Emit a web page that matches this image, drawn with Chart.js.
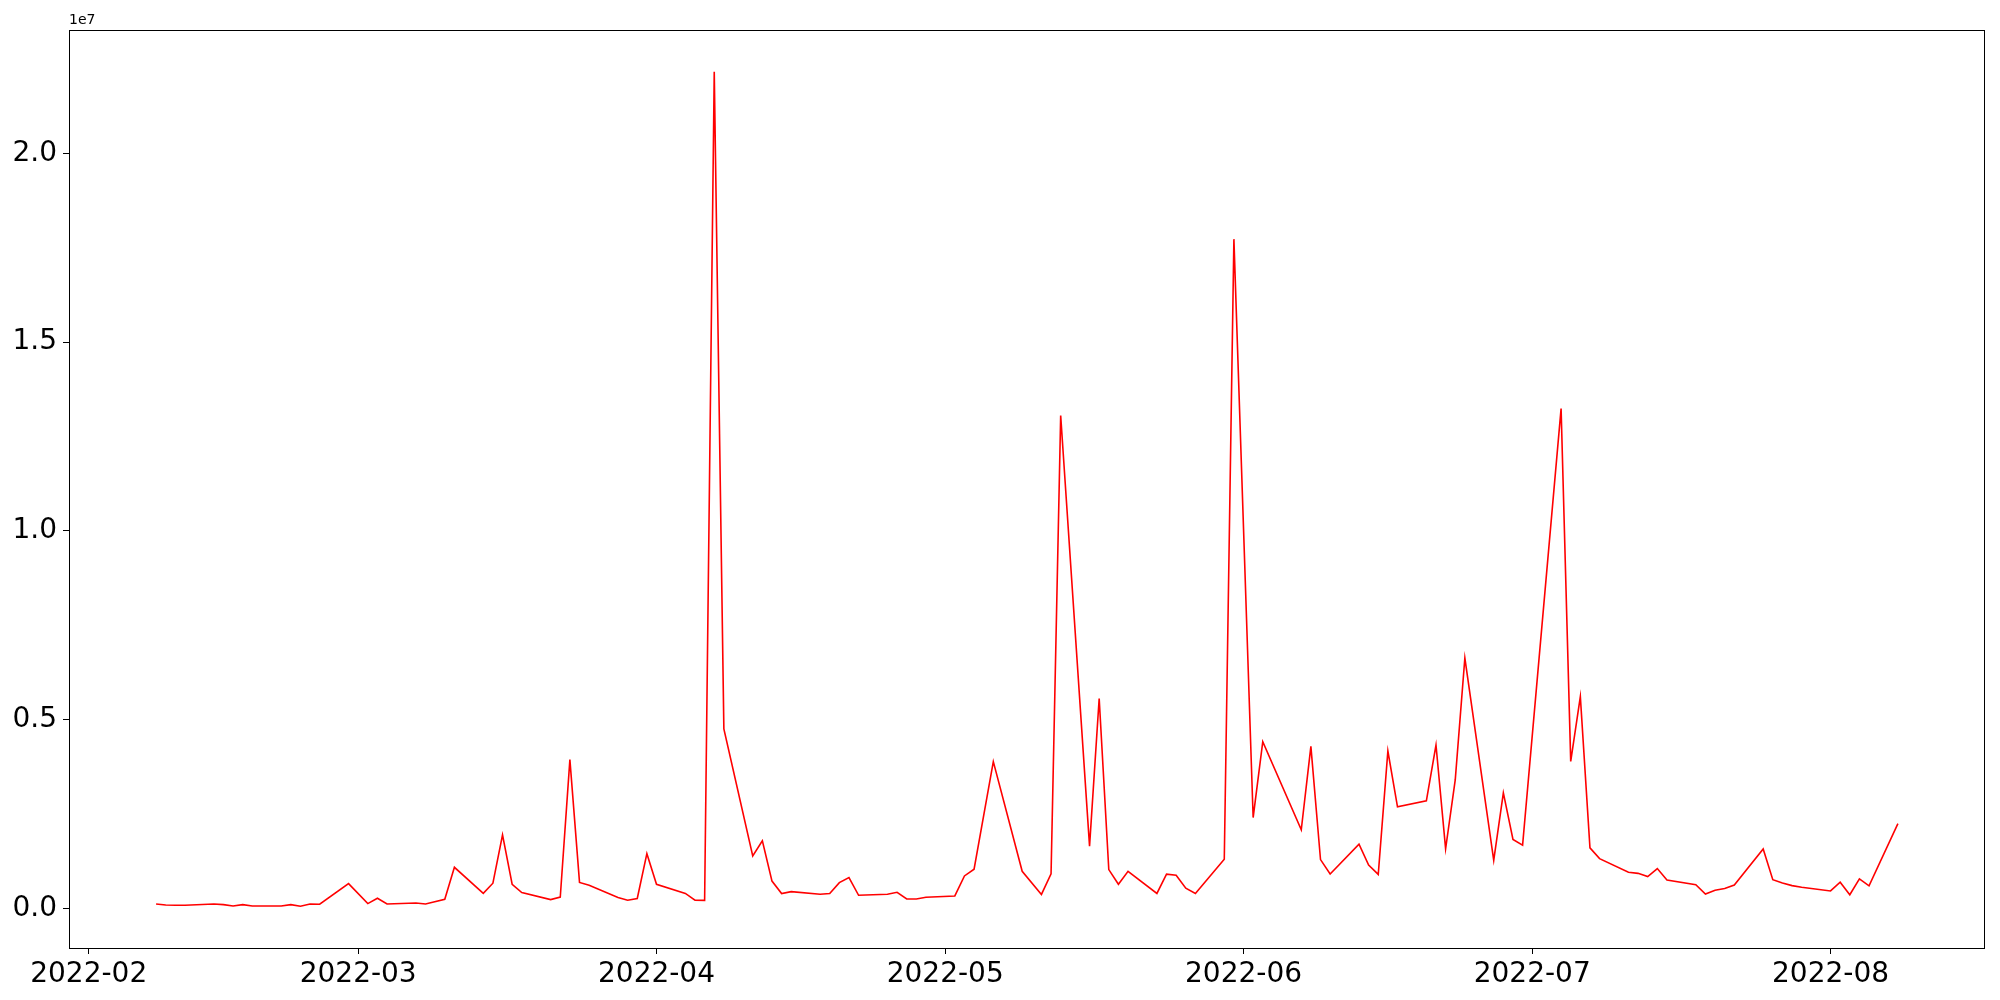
<!DOCTYPE html>
<html>
<head>
<meta charset="utf-8">
<script src="https://cdn.jsdelivr.net/npm/chart.js@4.4.1/dist/chart.umd.min.js"></script>
<style>
  html, body { margin: 0; padding: 0; background: #fff; }
  #chart { display: block; }
</style>
</head>
<body>
<canvas id="chart" width="2000" height="1000"></canvas>
<script>
// daily values (trading days only)
const dates = [
  '2022-02-08', '2022-02-09', '2022-02-10', '2022-02-11', '2022-02-14', '2022-02-15', '2022-02-16',
  '2022-02-17', '2022-02-18', '2022-02-21', '2022-02-22', '2022-02-23', '2022-02-24', '2022-02-25',
  '2022-02-28', '2022-03-02', '2022-03-03', '2022-03-04', '2022-03-07', '2022-03-08', '2022-03-10',
  '2022-03-11', '2022-03-14', '2022-03-15', '2022-03-16', '2022-03-17', '2022-03-18', '2022-03-21',
  '2022-03-22', '2022-03-23', '2022-03-24', '2022-03-25', '2022-03-28', '2022-03-29', '2022-03-30',
  '2022-03-31', '2022-04-01', '2022-04-04', '2022-04-05', '2022-04-06', '2022-04-07', '2022-04-08',
  '2022-04-11', '2022-04-12', '2022-04-13', '2022-04-14', '2022-04-15', '2022-04-18', '2022-04-19',
  '2022-04-20', '2022-04-21', '2022-04-22', '2022-04-25', '2022-04-26', '2022-04-27', '2022-04-28',
  '2022-04-29', '2022-05-02', '2022-05-03', '2022-05-04', '2022-05-06', '2022-05-09', '2022-05-11',
  '2022-05-12', '2022-05-13', '2022-05-16', '2022-05-17', '2022-05-18', '2022-05-19', '2022-05-20',
  '2022-05-23', '2022-05-24', '2022-05-25', '2022-05-26', '2022-05-27', '2022-05-30', '2022-05-31',
  '2022-06-02', '2022-06-03', '2022-06-07', '2022-06-08', '2022-06-09', '2022-06-10', '2022-06-13',
  '2022-06-14', '2022-06-15', '2022-06-16', '2022-06-17', '2022-06-20', '2022-06-21', '2022-06-22',
  '2022-06-23', '2022-06-24', '2022-06-27', '2022-06-28', '2022-06-29', '2022-06-30', '2022-07-04',
  '2022-07-05', '2022-07-06', '2022-07-07', '2022-07-08', '2022-07-11', '2022-07-12', '2022-07-13',
  '2022-07-14', '2022-07-15', '2022-07-18', '2022-07-19', '2022-07-20', '2022-07-21', '2022-07-22',
  '2022-07-25', '2022-07-26', '2022-07-27', '2022-07-28', '2022-07-29', '2022-08-01', '2022-08-02',
  '2022-08-03', '2022-08-04', '2022-08-05', '2022-08-08'
];

const volumes = [
  114000, 88000, 79000, 79000, 114000, 97000, 62000,
  97000, 62000, 62000, 97000, 53000, 114000, 106000,
  653000, 124000, 265000, 114000, 140000, 114000, 240000,
  1086000, 395000, 665000, 1944000, 636000, 418000, 230000,
  295000, 3940000, 685000, 610000, 285000, 212000, 260000,
  1446000, 636000, 395000, 215000, 210000, 22166000, 4755000,
  1388000, 1790000, 720000, 390000, 442000, 371000, 389000,
  680000, 813000, 344000, 371000, 424000, 247000, 247000,
  291000, 327000, 857000, 1035000, 3886000, 980000, 366000,
  914000, 13057000, 1648000, 5560000, 1025000, 636000, 980000,
  392000, 903000, 877000, 532000, 392000, 1300000, 17730000,
  2403000, 4413000, 2080000, 4289000, 1290000, 909000, 1698000,
  1144000, 897000, 4166000, 2686000, 2845000, 4326000, 1576000,
  3400000, 6630000, 1269000, 3057000, 1823000, 1674000, 13240000,
  3890000, 5607000, 1600000, 1315000, 956000, 925000, 840000,
  1052000, 749000, 622000, 376000, 477000, 522000, 617000,
  1572000, 757000, 670000, 600000, 556000, 459000, 689000,
  359000, 781000, 596000, 2241000
];

const xTickDates = ['2022-02-01', '2022-03-01', '2022-04-01', '2022-05-01', '2022-06-01', '2022-07-01', '2022-08-01'];
const xTickLabels = ['2022-02', '2022-03', '2022-04', '2022-05', '2022-06', '2022-07', '2022-08'];
const yTicks = [0, 5000000, 10000000, 15000000, 20000000];

function toDay(s) {
  const p = s.split('-').map(Number);
  return Date.UTC(p[0], p[1] - 1, p[2]) / 86400000;
}

const points = dates.map((d, i) => ({ x: toDay(d), y: volumes[i] }));
const xTickValues = xTickDates.map(toDay);

// matplotlib style 5% margins
const xMinData = points[0].x, xMaxData = points[points.length - 1].x;
const xPad = (xMaxData - xMinData) * 0.05;
const yMinData = Math.min(...volumes), yMaxData = Math.max(...volumes);
const yPad = (yMaxData - yMinData) * 0.05;

const FONT = "'DejaVu Sans', sans-serif";

const framePlugin = {
  id: 'frame',
  afterDraw(chart) {
    const { ctx, chartArea } = chart;
    ctx.save();
    ctx.strokeStyle = '#000';
    ctx.lineWidth = 1;
    ctx.strokeRect(chartArea.left + 0.5, chartArea.top + 0.5,
      chartArea.right - chartArea.left - 1, chartArea.bottom - chartArea.top);
    // offset text of the y axis
    ctx.fillStyle = '#000';
    ctx.font = '14px ' + FONT;
    ctx.textAlign = 'left';
    ctx.textBaseline = 'alphabetic';
    ctx.fillText('1e7', chartArea.left, chartArea.top - 6);
    ctx.restore();
  }
};

new Chart(document.getElementById('chart').getContext('2d'), {
  type: 'line',
  data: {
    datasets: [{
      label: 'volume',
      data: points,
      borderColor: '#ff0000',
      borderWidth: 1.6,
      pointRadius: 0,
      tension: 0,
      fill: false
    }]
  },
  options: {
    responsive: false,
    animation: false,
    parsing: true,
    layout: { padding: { top: 30, right: 15, left: 0, bottom: 0 } },
    plugins: {
      legend: { display: false },
      tooltip: { enabled: false }
    },
    scales: {
      x: {
        type: 'linear',
        min: xMinData - xPad,
        max: xMaxData + xPad,
        afterBuildTicks: (scale) => {
          scale.ticks = xTickValues.map(v => ({ value: v }));
        },
        afterFit: (scale) => { scale.height = 52; },
        ticks: {
          color: '#000',
          font: { family: FONT, size: 28 },
          padding: 4,
          maxRotation: 0,
          autoSkip: false,
          callback: (value) => {
            const i = xTickValues.indexOf(value);
            return i >= 0 ? xTickLabels[i] : '';
          }
        },
        grid: { display: true, drawOnChartArea: false, drawTicks: true, tickLength: 6, color: '#000', lineWidth: 1 },
        border: { display: false }
      },
      y: {
        type: 'linear',
        min: yMinData - yPad,
        max: yMaxData + yPad,
        afterBuildTicks: (scale) => {
          scale.ticks = yTicks.map(v => ({ value: v }));
        },
        afterFit: (scale) => { scale.width = 69; },
        ticks: {
          color: '#000',
          font: { family: FONT, size: 28 },
          padding: 6,
          autoSkip: false,
          callback: (value) => (value / 1e7).toFixed(1)
        },
        grid: { display: true, drawOnChartArea: false, drawTicks: true, tickLength: 6, color: '#000', lineWidth: 1 },
        border: { display: false }
      }
    }
  },
  plugins: [framePlugin]
});
</script>
</body>
</html>
